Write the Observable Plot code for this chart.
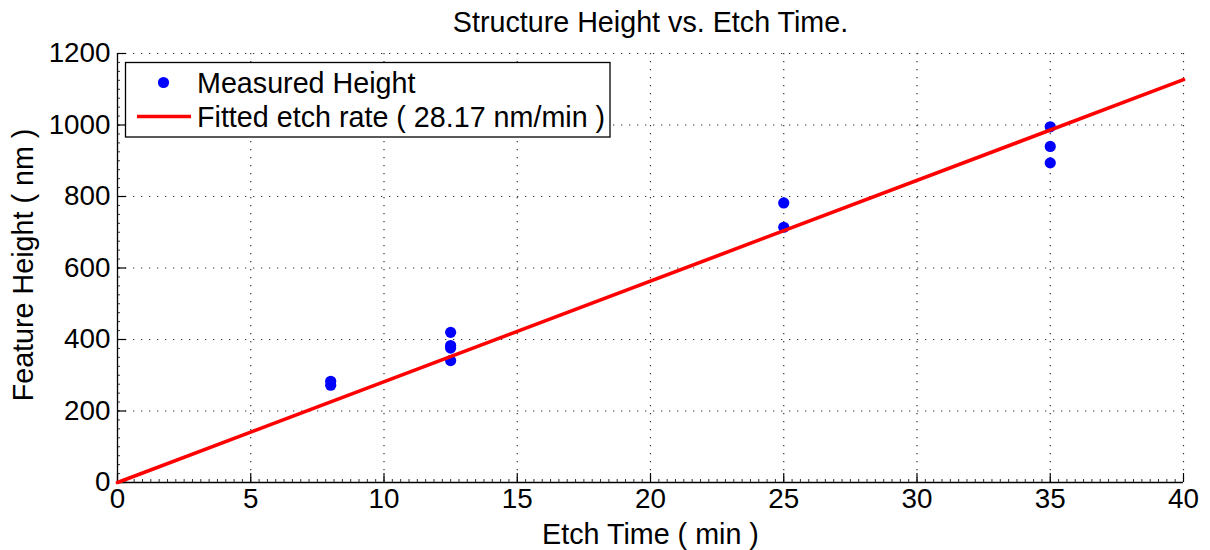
<!DOCTYPE html>
<html>
<head>
<meta charset="utf-8">
<script src="https://cdn.jsdelivr.net/npm/d3@7"></script>
<script src="https://cdn.jsdelivr.net/npm/@observablehq/plot@0.6"></script>
<style>
  body { margin: 0; background: #fff; }
  svg { display: block; }
</style>
</head>
<body>
<script>
// ---- data ----
const etchTimes = [8, 8, 12.5, 12.5, 12.5, 12.5, 25, 25, 35, 35, 35];
const heights   = [283, 272, 420, 383, 376, 341, 782, 714, 995, 940, 894];
const fittedRate = 28.17; // nm/min
const fitRange = [0, 40];
const xTicks = [0, 5, 10, 15, 20, 25, 30, 35, 40];
const yTicks = [0, 200, 400, 600, 800, 1000, 1200];
const titleText = "Structure Height vs. Etch Time.";
const xLabel = "Etch Time ( min )";
const yLabel = "Feature Height ( nm )";
const legendLabels = ["Measured Height", "Fitted etch rate ( 28.17 nm/min )"];

const points = etchTimes.map((t, i) => ({t, h: heights[i]}));
const fitLine = fitRange.map(t => ({t, h: fittedRate * t}));
const xMinor = d3.range(0, 40.0001, 40 / 128);
const yMinor = d3.range(0, 1200.0001, 25);

const W = 1210, H = 550;
const mL = 117, mR = 27, mT = 53, mB = 68;
const plotW = W - mL - mR, plotH = H - mT - mB;
const FONT = "'Liberation Sans', Arial, Helvetica, sans-serif";
const FS = 27.8;   // tick labels
const LFS = 28.7;  // labels, legend, title

const chart = Plot.plot({
  width: W, height: H,
  marginLeft: mL, marginRight: mR, marginTop: mT, marginBottom: mB,
  style: {fontFamily: FONT, fontSize: FS + "px", color: "#000", background: "#fff"},
  x: {domain: [0, 40]},
  y: {domain: [0, 1200]},
  marks: [
    // dotted grid
    Plot.ruleX(xTicks.slice(1), {x: d => d, stroke: "#333", strokeDasharray: "1.3,6.7", strokeWidth: 1.2}),
    Plot.ruleY(yTicks.slice(1), {y: d => d, stroke: "#333", strokeDasharray: "1.3,6.7", strokeWidth: 1.2}),
    // minor ticks (inward)
    Plot.tickX(xMinor, {x: d => d, insetTop: plotH - 3, stroke: "#333", strokeWidth: 1}),
    Plot.tickY(yMinor, {y: d => d, insetRight: plotW - 3, stroke: "#333", strokeWidth: 1}),
    // major ticks (inward)
    Plot.tickX(xTicks, {x: d => d, insetTop: plotH - 9, stroke: "#000", strokeWidth: 1.2}),
    Plot.tickY(yTicks, {y: d => d, insetRight: plotW - 9, stroke: "#000", strokeWidth: 1.2}),
    // axes lines
    Plot.ruleX([0], {stroke: "#000", strokeWidth: 1.3}),
    Plot.ruleY([0], {stroke: "#000", strokeWidth: 1.3}),
    // tick labels
    Plot.axisX({ticks: xTicks, tickSize: 0, tickPadding: 6, label: null, tickFormat: d => String(d)}),
    Plot.axisY({ticks: yTicks, tickSize: 0, tickPadding: 7, label: null, tickFormat: d => String(d)}),
    // data
    Plot.dot(points, {x: "t", y: "h", r: 5.6, fill: "#0000ff", stroke: null}),
    Plot.line(fitLine, {x: "t", y: "h", stroke: "#ff0000", strokeWidth: 3.6}),
    // titles
    Plot.text([titleText], {frameAnchor: "top", dy: -31, lineAnchor: "middle", textAnchor: "middle", fontSize: LFS, fill: "#000"}),
    Plot.text([xLabel], {frameAnchor: "bottom", dy: 52, lineAnchor: "middle", textAnchor: "middle", fontSize: LFS, fill: "#000"}),
    Plot.text([yLabel], {frameAnchor: "left", dx: -94, dy: -3, rotate: -90, lineAnchor: "middle", textAnchor: "middle", fontSize: LFS, fill: "#000"})
  ]
});
document.body.append(chart);

// legend inside the axes (top-left)
const svg = d3.select(chart);
const lg = svg.append("g").attr("font-family", FONT).attr("font-size", LFS).attr("text-anchor", "start");
lg.append("rect").attr("x", 125.5).attr("y", 62.5).attr("width", 484.5).attr("height", 74.5)
  .attr("fill", "#fff").attr("stroke", "#000").attr("stroke-width", 1.3);
lg.append("circle").attr("cx", 163.5).attr("cy", 82.5).attr("r", 5.6).attr("fill", "#0000ff");
lg.append("line").attr("x1", 137).attr("x2", 191).attr("y1", 116.5).attr("y2", 116.5)
  .attr("stroke", "#ff0000").attr("stroke-width", 3.6);
lg.append("text").attr("x", 197).attr("y", 82.5).attr("dy", "0.35em").attr("fill", "#000").text(legendLabels[0]);
lg.append("text").attr("x", 197).attr("y", 116.5).attr("dy", "0.35em").attr("fill", "#000").text(legendLabels[1]);
</script>
</body>
</html>
